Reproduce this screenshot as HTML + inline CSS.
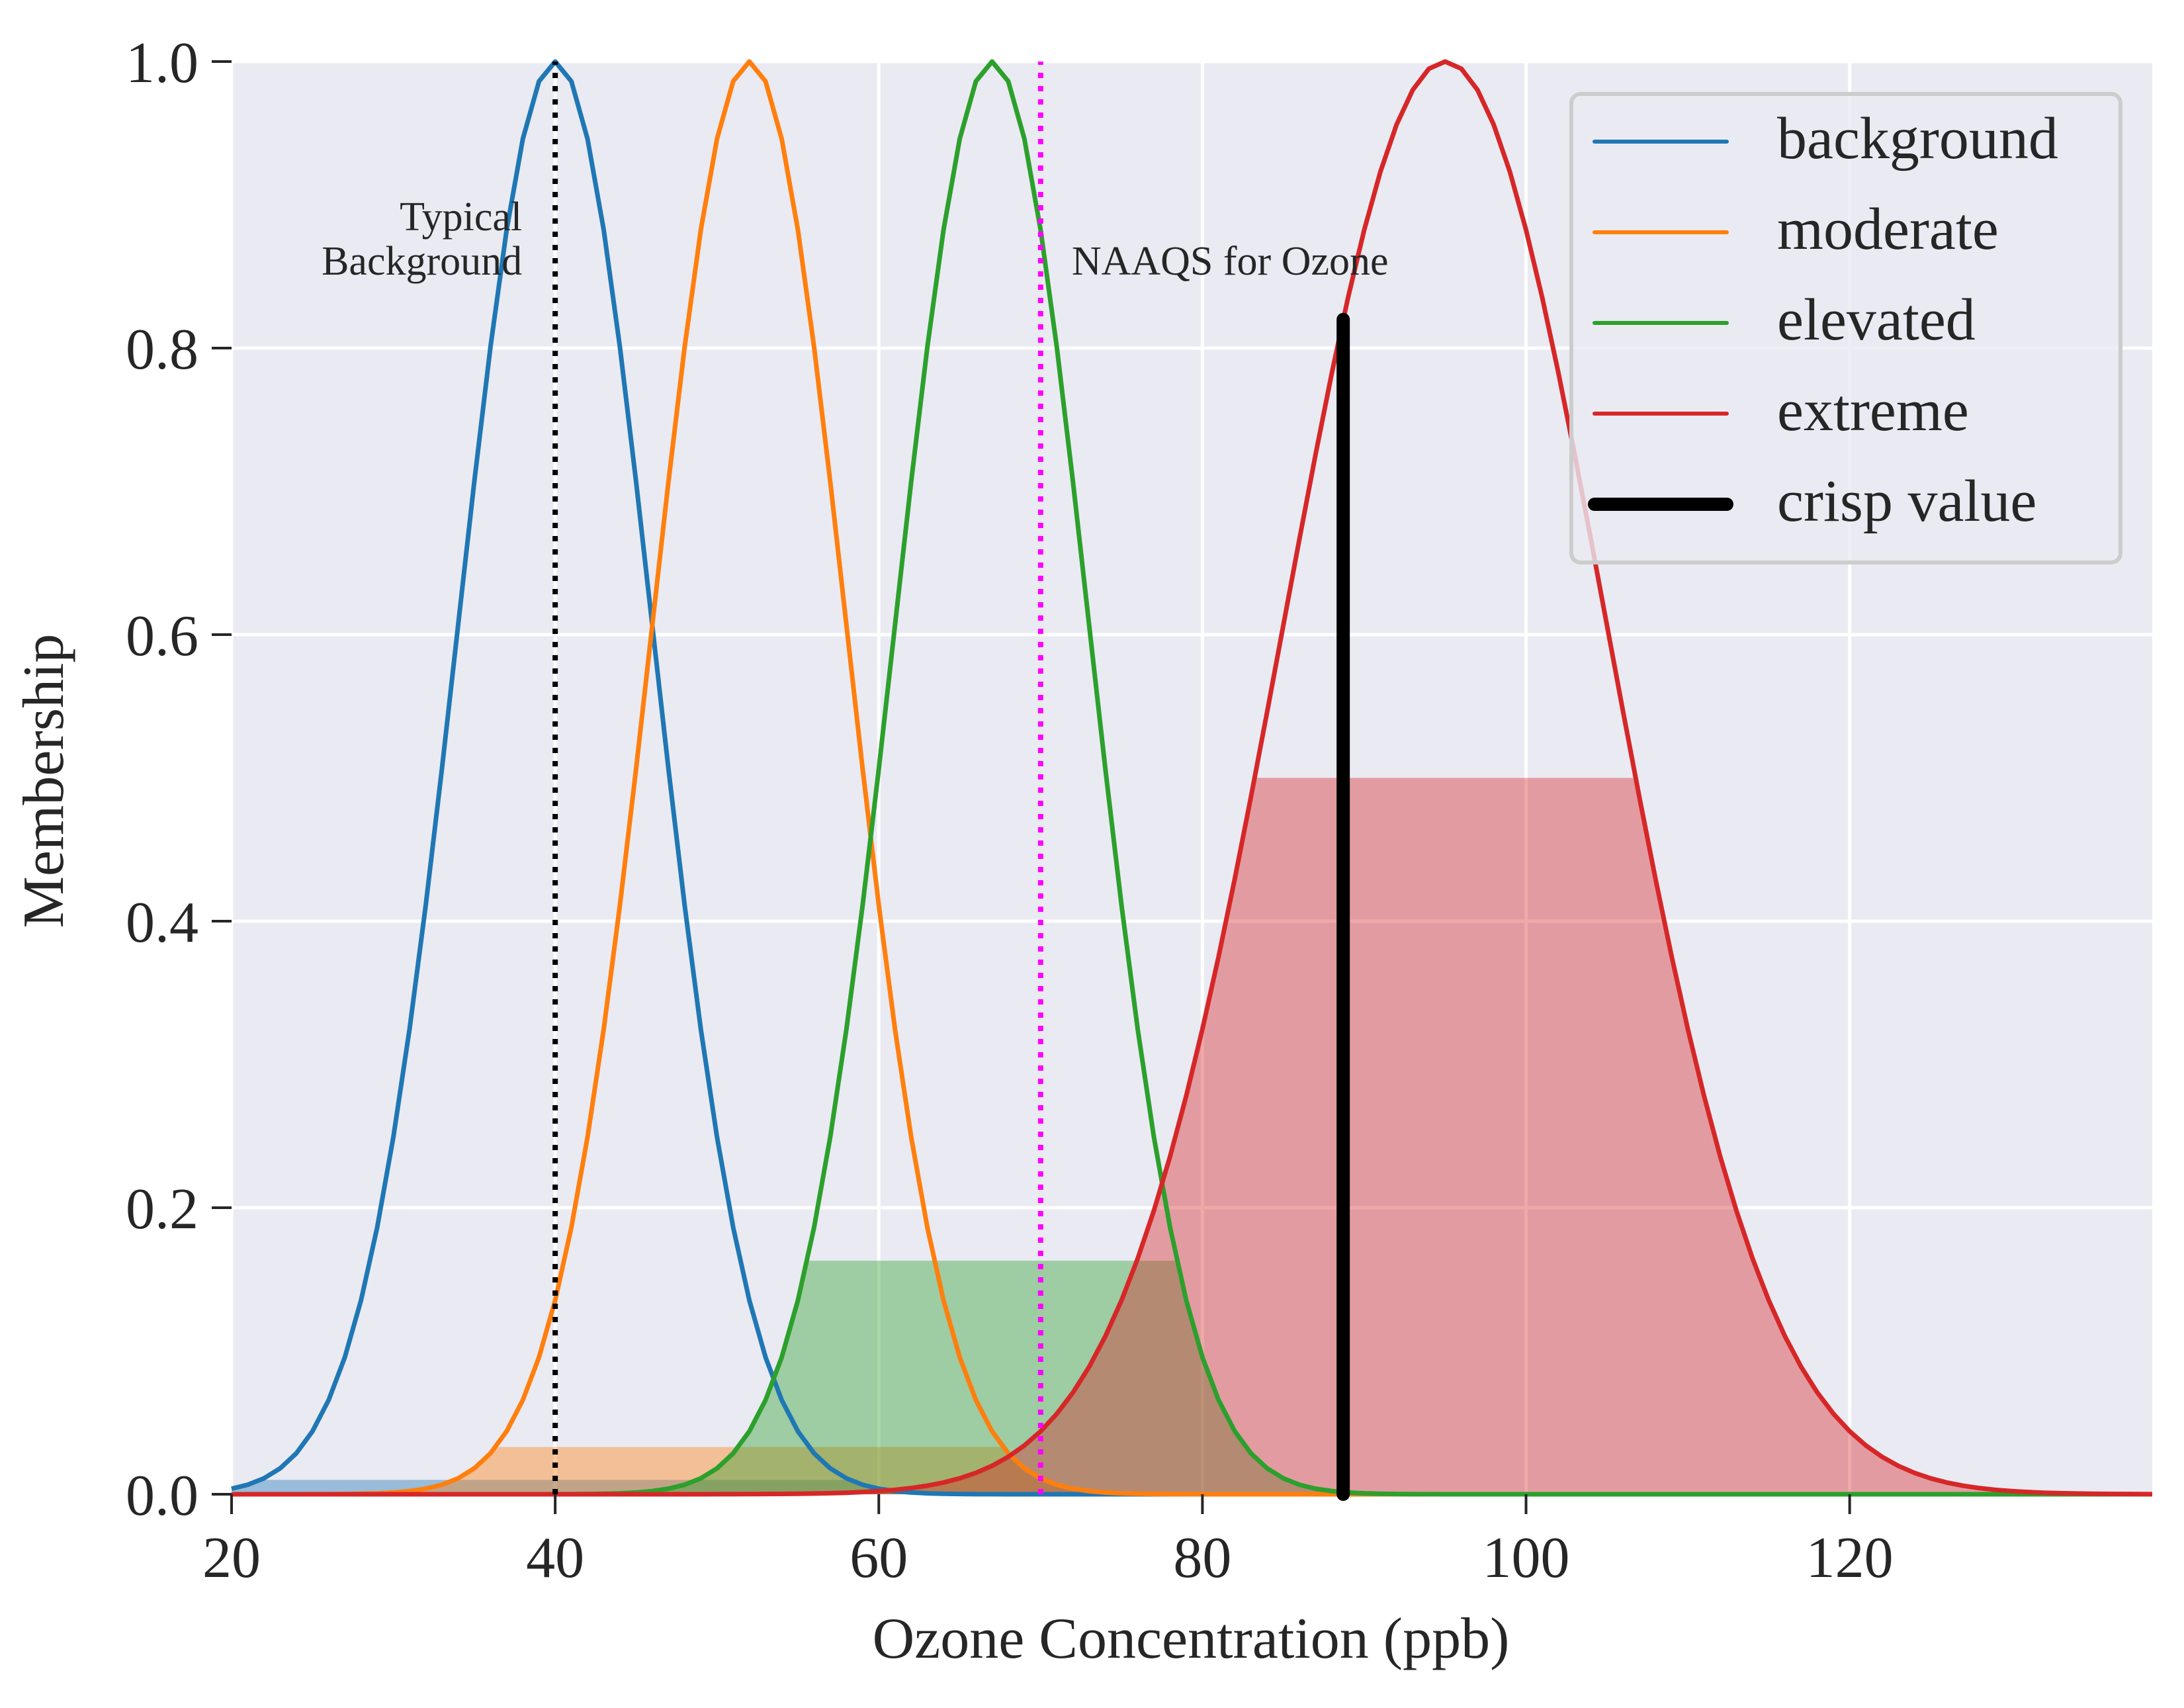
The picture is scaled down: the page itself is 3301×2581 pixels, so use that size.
<!DOCTYPE html>
<html><head><meta charset="utf-8">
<style>
html,body{margin:0;padding:0;background:#fff;}
svg{display:block;}
text{font-family:"Liberation Serif",serif;fill:#262626;}
</style></head>
<body>
<svg id="chart" width="3301" height="2581" viewBox="0 0 3301 2581">
<rect x="350" y="93" width="2903" height="2165" fill="#eaeaf2"/>
<g id="grid"></g>
<g id="fills"></g>
<g id="curves"></g>
<g id="refs"></g>
<g id="axes"></g>
<text x="95" y="1180" font-size="88" text-anchor="middle" transform="rotate(-90 95 1180)">Membership</text>
<text x="1800" y="2505" font-size="88" text-anchor="middle">Ozone Concentration (ppb)</text>
<g id="legend"></g>
</svg>
<script>
const NS="http://www.w3.org/2000/svg";
const xTicks=[20,40,60,80,100,120];
const yTicks=[0,0.2,0.4,0.6,0.8,1.0];
const yTickLabels=["0.0","0.2","0.4","0.6","0.8","1.0"];
const seriesNames=["background","moderate","elevated","extreme"];
const seriesColors=["#1f77b4","#ff7f0e","#2ca02c","#d62728"];
const seriesMeans=[40,52,67,95];
const seriesSigmas=[6,6,6,10];
const fillLevels=[0.01,0.033,0.163,0.5];
const crispValue=[88.7];
const crispHeight=[0.82];
const refLines=[40,70];
const xMin=20,xMax=138.7;
const X0=350,X1=3253,Y0=2258,Y1=93;
const sx=v=>X0+(v-xMin)/(xMax-xMin)*(X1-X0);
const sy=v=>Y0-v*(Y0-Y1);
function mk(tag,attrs,parent){const e=document.createElementNS(NS,tag);for(const k in attrs)e.setAttribute(k,attrs[k]);parent.appendChild(e);return e;}
const grid=document.getElementById('grid'),axes=document.getElementById('axes');
xTicks.forEach(t=>{
  const l=mk('line',{x1:sx(t),x2:sx(t),y1:Y1,y2:Y0,stroke:'#fff','stroke-width':5},grid);
  
  
  const tk=mk('line',{x1:sx(t),x2:sx(t),y1:Y0,y2:Y0+30,stroke:'#262626','stroke-width':4},axes);
  
  
  const tx=mk('text',{x:sx(t),y:Y0+125,'font-size':88,'text-anchor':'middle'},axes);
  tx.textContent=t;
  
  
});
yTicks.forEach((t,i)=>{
  const l=mk('line',{x1:X0,x2:X1,y1:sy(t),y2:sy(t),stroke:'#fff','stroke-width':5},grid);
  
  
  const tk=mk('line',{x1:X0-30,x2:X0,y1:sy(t),y2:sy(t),stroke:'#262626','stroke-width':4},axes);
  
  
  const tx=mk('text',{x:X0-50,y:sy(t)+31,'font-size':88,'text-anchor':'end'},axes);
  tx.textContent=yTickLabels[i];
  
  
});
const xs=[];for(let v=xMin;v<=xMax;v+=1)xs.push(v);
if(xs[xs.length-1]<xMax)xs.push(xMax);
const fx=[];for(let v=xMin;v<=xMax;v+=0.1)fx.push(v);
fx.push(xMax);
const g=(v,m,s)=>Math.exp(-((v-m)**2)/(2*s*s));
const fills=document.getElementById('fills'),curves=document.getElementById('curves');
seriesNames.forEach((n,i)=>{
  let d=`M${sx(fx[0])},${sy(0)}`;
  fx.forEach(v=>{d+=` L${sx(v).toFixed(1)},${sy(Math.min(fillLevels[i],g(v,seriesMeans[i],seriesSigmas[i]))).toFixed(1)}`;});
  d+=` L${sx(fx[fx.length-1])},${sy(0)} Z`;
  const f=mk('path',{d:d,fill:seriesColors[i],'fill-opacity':0.4},fills);
  
  
});
seriesNames.forEach((n,i)=>{
  const pts=xs.map(v=>`${sx(v)},${sy(g(v,seriesMeans[i],seriesSigmas[i]))}`).join(' ');
  const p=mk('polyline',{points:pts,fill:'none',stroke:seriesColors[i],'stroke-width':7,'stroke-linejoin':'round'},curves);
  
  
});
const refs=document.getElementById('refs');
const r1=mk('line',{x1:sx(refLines[0]),x2:sx(refLines[0]),y1:sy(0),y2:sy(1),stroke:'#000','stroke-width':8,'stroke-dasharray':'8 12'},refs);


const r2=mk('line',{x1:sx(refLines[1]),x2:sx(refLines[1]),y1:sy(0),y2:sy(1),stroke:'#ff00ff','stroke-width':8,'stroke-dasharray':'8 12'},refs);


const cr=mk('line',{x1:sx(crispValue[0]),x2:sx(crispValue[0]),y1:sy(0),y2:sy(crispHeight[0]),stroke:'#000','stroke-width':20,'stroke-linecap':'round'},refs);


const t1=mk('text',{x:sx(refLines[0])-50,y:348,'font-size':62,'text-anchor':'end'},refs);t1.textContent='Typical';


const t2=mk('text',{x:sx(refLines[0])-50,y:415,'font-size':62,'text-anchor':'end'},refs);t2.textContent='Background';


const t3=mk('text',{x:sx(refLines[1])+47,y:415,'font-size':62},refs);t3.textContent='NAAQS for Ozone';


const leg=document.getElementById('legend');
const box=mk('rect',{x:2375,y:142,width:830,height:708,rx:14,fill:'#eaeaf2','fill-opacity':0.8,stroke:'#cccccc','stroke-width':6},leg);


const legNames=seriesNames.concat(['crisp value']);
const legColors=seriesColors.concat(['#000']);
legNames.forEach((n,i)=>{
  const y=214+i*137;
  const l=mk('line',{x1:2410,x2:2610,y1:y,y2:y,stroke:legColors[i],'stroke-width':i==4?20:6,'stroke-linecap':'round'},leg);
  
  
  const t=mk('text',{x:2686,y:y+25,'font-size':90},leg);t.textContent=n;
  
  
});
</script>
</body></html>
